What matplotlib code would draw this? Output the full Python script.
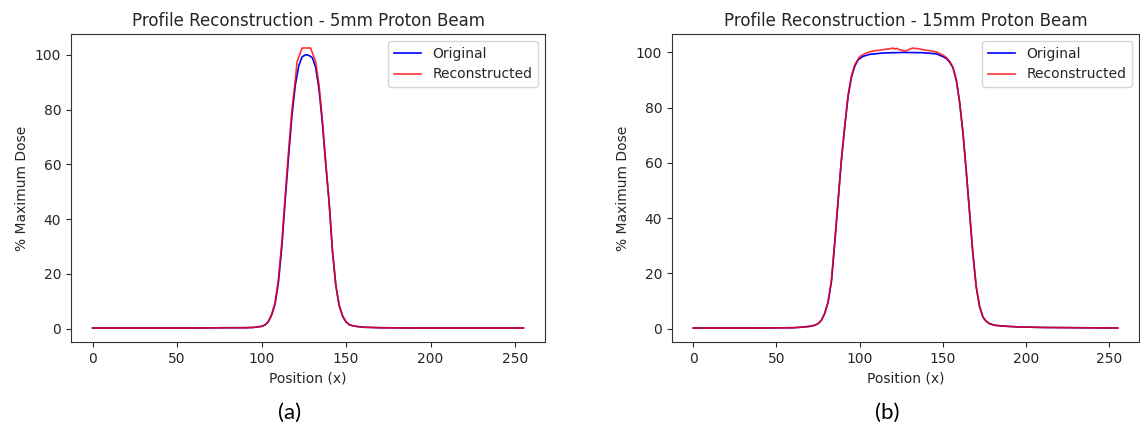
import numpy as np
import matplotlib
matplotlib.use("Agg")
import matplotlib.pyplot as plt

# 5mm beam profile, sampled positions and % of max dose
x_5mm = [0, 20, 40, 60, 80, 90, 95, 100, 102, 104, 106, 108, 110, 112, 114, 116, 118, 120,
         122, 124, 126, 127, 128, 130, 132, 134, 136, 138, 140, 142, 144, 146, 148,
         150, 152, 154, 156, 160, 170, 190, 220, 255]
orig_5mm = [0.2, 0.2, 0.2, 0.2, 0.3, 0.3, 0.4, 0.8, 1.3, 2.5, 5.0, 9.0, 17.0, 30.0, 47.0, 63.0, 78.0, 89.0,
            96.0, 99.3, 100.0, 100.0, 99.8, 99.0, 95.5, 87.5, 75.0, 60.0, 46.0, 28.0, 15.5, 8.3, 4.5,
            2.4, 1.4, 1.0, 0.8, 0.5, 0.3, 0.2, 0.2, 0.2]

x_5mm_rec = [0, 20, 40, 60, 80, 90, 95, 100, 102, 104, 106, 108, 110, 112, 114, 116, 118, 120,
             121, 124, 129, 132, 134, 136, 138, 140, 142, 144, 146, 148,
             150, 152, 154, 156, 160, 170, 190, 220, 255]
rec_5mm = [0.2, 0.2, 0.2, 0.2, 0.3, 0.3, 0.4, 0.8, 1.3, 2.6, 5.2, 9.5, 18.0, 31.5, 48.5, 65.0, 80.0, 91.0,
           97.5, 102.5, 102.5, 97.5, 89.0, 76.0, 60.5, 46.0, 28.0, 15.5, 8.3, 4.5,
           2.4, 1.4, 1.0, 0.8, 0.5, 0.3, 0.2, 0.2, 0.2]

# 15mm beam profile
x_15mm = [0, 20, 40, 60, 65, 70, 73, 75, 77, 79, 81, 83, 85, 87, 89, 91, 93, 95, 97, 99,
          102, 106, 114, 126, 138, 146, 150, 152, 154, 156, 158, 160, 162, 164, 166, 168,
          170, 172, 174, 176, 178, 181, 186, 195, 210, 230, 255]
orig_15mm = [0.2, 0.2, 0.2, 0.3, 0.5, 0.8, 1.2, 1.8, 3.0, 5.5, 9.5, 17.0, 31.0, 46.0, 61.0, 73.0, 84.0, 91.0, 95.0, 97.3,
             98.6, 99.3, 99.8, 100.0, 99.9, 99.5, 98.5, 97.8, 96.5, 94.5, 90.0, 82.0, 71.0, 57.0, 42.0, 27.0,
             15.0, 8.0, 4.2, 2.6, 1.8, 1.2, 0.9, 0.6, 0.4, 0.3, 0.2]

x_15mm_rec = [0, 20, 40, 60, 65, 70, 73, 75, 77, 79, 81, 83, 85, 87, 89, 91, 93, 95, 97, 100,
              102, 104, 106, 108, 110, 112, 114, 116, 118, 120, 121, 122, 124, 126, 127, 128, 130,
              132, 133, 134, 136, 138, 140, 142, 144, 146, 148, 150, 152, 154, 156, 158, 160, 162,
              164, 166, 168, 170, 172, 174, 176, 178, 181, 186, 195, 210, 230, 255]
rec_15mm = [0.2, 0.2, 0.2, 0.3, 0.5, 0.8, 1.2, 1.8, 3.0, 5.6, 9.8, 17.5, 31.5, 46.5, 61.5, 73.5, 84.5, 91.5, 95.5, 98.5,
            99.2, 99.8, 100.2, 100.5, 100.7, 100.8, 101.0, 101.2, 101.3, 101.6, 101.2, 101.5, 101.0, 100.7, 100.5, 100.6, 101.2,
            101.6, 101.4, 101.5, 101.2, 101.0, 100.8, 100.6, 100.4, 100.2, 99.6, 99.0, 98.2, 96.8, 94.6, 90.2, 82.0, 71.0,
            57.0, 42.0, 27.0, 15.0, 8.0, 4.2, 2.6, 1.8, 1.2, 0.9, 0.6, 0.4, 0.3, 0.2]

plt.rcParams['font.size'] = 10
plt.rcParams['text.color'] = '#262626'
plt.rcParams['axes.labelcolor'] = '#262626'
plt.rcParams['xtick.color'] = '#262626'
plt.rcParams['ytick.color'] = '#262626'
plt.rcParams['axes.edgecolor'] = '#333333'

fig = plt.figure(figsize=(11.4, 4.28), dpi=100)
ax1 = fig.add_axes([0.0623, 0.2009, 0.4158, 0.7196])
ax2 = fig.add_axes([0.5895, 0.2009, 0.4096, 0.7196])

panels = [
    (ax1, x_5mm, orig_5mm, x_5mm_rec, rec_5mm, 'Profile Reconstruction - 5mm Proton Beam', '(a)'),
    (ax2, x_15mm, orig_15mm, x_15mm_rec, rec_15mm, 'Profile Reconstruction - 15mm Proton Beam', '(b)'),
]

for ax, xo, yo, xr, yr, title, tag in panels:
    ax.plot(xo, yo, color='blue', lw=1.2, label='Original')
    ax.plot(xr, yr, color='red', lw=1.2, alpha=0.8, label='Reconstructed')
    ax.set_title(title, fontsize=12)
    ax.set_xlabel('Position (x)')
    ax.set_ylabel('% Maximum Dose')
    ax.set_xticks([0, 50, 100, 150, 200, 250])
    ax.set_yticks([0, 20, 40, 60, 80, 100])
    ax.legend(loc='upper right')
    pos = ax.get_position()
    fig.text(pos.x0 + pos.width / 2 - 0.016, 0.012, tag, ha='center', va='bottom',
             fontsize=16, color='black', family=['Lato', 'DejaVu Sans'])

fig.savefig('out.png', dpi=100)
